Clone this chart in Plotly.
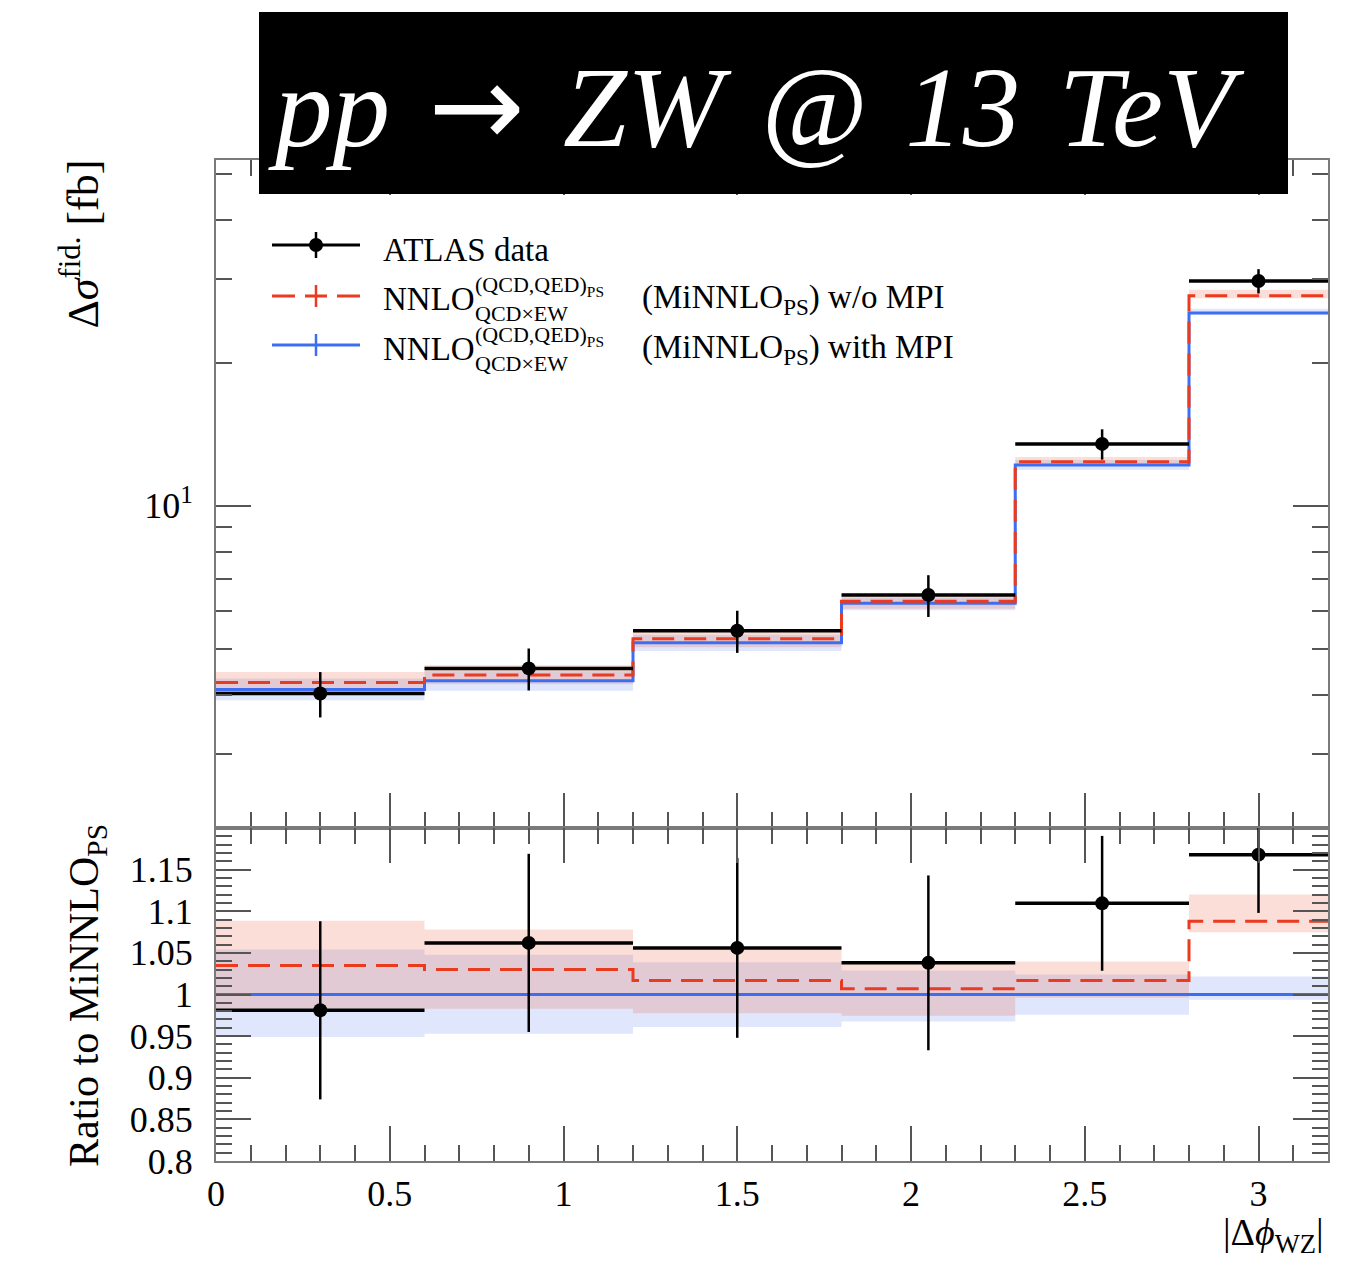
import plotly.graph_objects as go

# ---------------- data ----------------
bin_edges = [0.0, 0.6, 1.2, 1.8, 2.3, 2.8, 3.2]

# top panel: differential fiducial cross section [fb]
atlas_data = [4.02, 4.54, 5.45, 6.48, 13.48, 29.7]
atlas_err = [0.44, 0.46, 0.555, 0.654, 0.99, 1.75]
minnlo_mpi = [4.10, 4.277, 5.143, 6.224, 12.17, 25.42]
minnlo_nompi = [4.24, 4.40, 5.244, 6.29, 12.37, 27.65]

# ratio panel (ratio to MiNNLO_PS with MPI)
ratio_data = [0.981, 1.062, 1.056, 1.038, 1.1095, 1.168]
ratio_data_err = [0.107, 0.107, 0.108, 0.105, 0.081, 0.070]
ratio_nompi = [1.0348, 1.030, 1.0168, 1.0068, 1.0168, 1.0879]
ratio_mpi = [1.0, 1.0, 1.0, 1.0, 1.0, 1.0]
nompi_band_lo = [0.983, 0.983, 0.9776, 0.9744, 0.996, 1.0747]
nompi_band_hi = [1.0887, 1.078, 1.0536, 1.0376, 1.0396, 1.120]
mpi_band_lo = [0.949, 0.953, 0.961, 0.9676, 0.9757, 0.9936]
mpi_band_hi = [1.054, 1.0476, 1.0388, 1.0288, 1.024, 1.0216]

ratio_tick_vals = [0.8, 0.85, 0.9, 0.95, 1.0, 1.05, 1.1, 1.15]
ratio_tick_text = ["0.8", "0.85", "0.9", "0.95", "1", "1.05", "1.1", "1.15"]
top_tick_vals = [10]
top_tick_text = ["10<sup>1</sup>"]
top_minor_vals = [3, 4, 5, 6, 7, 8, 9, 20, 30, 40, 50]

# ---------------- styling ----------------
RED = "#ea3a1f"
BLUE = "#3b6ef0"
RED_FILL = "rgba(236,90,60,0.20)"
BLUE_FILL = "rgba(70,110,235,0.17)"
FRAME = "#7a7a7a"
TICKC = "#555555"
FONT = "Liberation Serif"

OFF = 8                      # page body margin of the html page
W, H = 1358 - OFF, 1261 - OFF
# plot-area geometry in page pixels
PL, PR, PT, PB = 216, 1328, 160, 1161
PW = PR - PL
PH = PB - PT
SPLIT = (PB - 828) / PH


def px(x):
    return (x - PL) / PW


def py(y):
    return (PB - y) / PH


def step(vals):
    return list(bin_edges), list(vals) + [vals[-1]]


centers = [(a + b) / 2 for a, b in zip(bin_edges[:-1], bin_edges[1:])]
halfw = [(b - a) / 2 for a, b in zip(bin_edges[:-1], bin_edges[1:])]

fig = go.Figure()


def add_band(lo, hi, fill, xa, ya):
    x, ylo = step(lo)
    _, yhi = step(hi)
    fig.add_trace(go.Scatter(x=x, y=ylo, mode="lines", line=dict(width=0, shape="hv"),
                             hoverinfo="skip", showlegend=False, xaxis=xa, yaxis=ya))
    fig.add_trace(go.Scatter(x=x, y=yhi, mode="lines", line=dict(width=0, shape="hv"),
                             fill="tonexty", fillcolor=fill, hoverinfo="skip",
                             showlegend=False, xaxis=xa, yaxis=ya))


def add_hist(vals, color, dash, xa, ya, name):
    x, y = step(vals)
    fig.add_trace(go.Scatter(x=x, y=y, mode="lines", name=name,
                             line=dict(color=color, width=3, shape="hv", dash=dash),
                             showlegend=False, xaxis=xa, yaxis=ya))


def add_data(vals, errs, xa, ya):
    fig.add_trace(go.Scatter(x=centers, y=vals, mode="markers",
                             marker=dict(size=1, color="black"),
                             error_x=dict(type="data", array=halfw, width=0, thickness=3.5, color="black"),
                             showlegend=False, hoverinfo="skip", xaxis=xa, yaxis=ya))
    fig.add_trace(go.Scatter(x=centers, y=vals, mode="markers", name="ATLAS data",
                             marker=dict(size=14, color="black"),
                             error_y=dict(type="data", array=errs, width=0, thickness=2.5, color="black"),
                             showlegend=False, xaxis=xa, yaxis=ya))


# top panel
top_nompi_lo = [m * r for m, r in zip(minnlo_mpi, nompi_band_lo)]
top_nompi_hi = [m * r for m, r in zip(minnlo_mpi, nompi_band_hi)]
top_mpi_lo = [m * r for m, r in zip(minnlo_mpi, mpi_band_lo)]
top_mpi_hi = [m * r for m, r in zip(minnlo_mpi, mpi_band_hi)]
add_band(top_mpi_lo, top_mpi_hi, BLUE_FILL, "x", "y")
add_band(top_nompi_lo, top_nompi_hi, RED_FILL, "x", "y")
add_hist(minnlo_mpi, BLUE, "solid", "x", "y", "with MPI")
add_hist(minnlo_nompi, RED, "22px,10px", "x", "y", "w/o MPI")
add_data(atlas_data, atlas_err, "x", "y")

# ratio panel
add_band(mpi_band_lo, mpi_band_hi, BLUE_FILL, "x2", "y2")
add_band(nompi_band_lo, nompi_band_hi, RED_FILL, "x2", "y2")
add_hist(ratio_mpi, BLUE, "solid", "x2", "y2", "with MPI")
add_hist(ratio_nompi, RED, "22px,10px", "x2", "y2", "w/o MPI")
add_data(ratio_data, ratio_data_err, "x2", "y2")

tickfont = dict(family=FONT, size=36, color="black")
common = dict(showline=True, linecolor=FRAME, linewidth=2, mirror="ticks",
              ticks="inside", ticklen=35, tickwidth=2, tickcolor=TICKC,
              showgrid=False, zeroline=False, tickfont=tickfont)

fig.update_layout(
    width=W, height=H,
    margin=dict(l=PL - OFF, r=W - (PR - OFF), t=PT - OFF, b=H - (PB - OFF)),
    paper_bgcolor="white", plot_bgcolor="white",
    showlegend=False,
    xaxis=dict(domain=[0, 1], anchor="y", range=[0, 3.2], tickmode="linear", tick0=0, dtick=0.5,
               showticklabels=False,
               minor=dict(ticks="inside", ticklen=16, tickwidth=2, tickcolor=TICKC, tick0=0, dtick=0.1),
               **common),
    yaxis=dict(domain=[SPLIT, 1], anchor="x", type="log", range=[0.3211, 1.7274],
               tickmode="array", tickvals=top_tick_vals, ticktext=top_tick_text,
               ticklabelstandoff=14,
               minor=dict(ticks="inside", ticklen=16, tickwidth=2, tickcolor=TICKC,
                          tickmode="array", tickvals=top_minor_vals),
               **common),
    xaxis2=dict(domain=[0, 1], anchor="y2", range=[0, 3.2], tickmode="linear", tick0=0, dtick=0.5,
                minor=dict(ticks="inside", ticklen=16, tickwidth=2, tickcolor=TICKC, tick0=0, dtick=0.1),
                **common),
    yaxis2=dict(domain=[0, SPLIT], anchor="x2", range=[0.8, 1.2],
                tickmode="array", tickvals=ratio_tick_vals, ticktext=ratio_tick_text,
                ticklabelstandoff=14,
                minor=dict(ticks="inside", ticklen=16, tickwidth=2, tickcolor=TICKC,
                           tickmode="linear", tick0=0.8, dtick=0.01),
                **common),
)

shapes = []
annotations = []

# title box
SP = "\u2004"
shapes.append(dict(type="rect", xref="paper", yref="paper", x0=px(259), x1=px(1288),
                   y0=py(194), y1=py(12), fillcolor="black", line=dict(width=0), layer="above"))
annotations.append(dict(xref="paper", yref="paper", x=px(266), y=py(106), xanchor="left", yanchor="middle",
                        text=("<i>pp</i>" + SP + "<span style=\"font-family:'DejaVu Sans'\">→</span>" + SP
                              + "<i>ZW" + SP + "@" + SP + "13" + SP + "TeV</i>"),
                        showarrow=False,
                        font=dict(family=FONT, size=115, color="white")))

# axis titles
annotations.append(dict(xref="paper", yref="paper", x=px(80), y=py(158), xanchor="center", yanchor="top",
                        textangle=-90, showarrow=False,
                        text="Δ<i>σ</i><sup>fid.</sup> [fb]",
                        font=dict(family=FONT, size=44, color="black")))
annotations.append(dict(xref="paper", yref="paper", x=px(87), y=py(996), xanchor="center", yanchor="middle",
                        textangle=-90, showarrow=False,
                        text="Ratio to MiNNLO<sub>PS</sub>",
                        font=dict(family=FONT, size=42, color="black")))
annotations.append(dict(xref="paper", yref="paper", x=px(1326), y=py(1235), xanchor="right", yanchor="middle",
                        showarrow=False, text="|Δ<i>ϕ</i><sub>WZ</sub>|",
                        font=dict(family=FONT, size=38, color="black")))


# legend glyphs
def seg(x0, x1, y0, y1, color, width, dash="solid"):
    shapes.append(dict(type="line", xref="paper", yref="paper", x0=px(x0), x1=px(x1),
                       y0=py(y0), y1=py(y1), line=dict(color=color, width=width, dash=dash)))


seg(272, 360, 245, 245, "black", 3)
seg(316, 316, 232, 258, "black", 2.5)
shapes.append(dict(type="circle", xref="paper", yref="paper", x0=px(309), x1=px(323),
                   y0=py(252), y1=py(238), fillcolor="black", line=dict(width=0)))
for a, b in [(272, 295), (305, 327), (337, 360)]:
    seg(a, b, 296, 296, RED, 3)
seg(316, 316, 285, 307, RED, 2.5)
seg(272, 360, 345, 345, BLUE, 3)
seg(316, 316, 334, 356, BLUE, 2.5)

LF = dict(family=FONT, size=33, color="black")
SF = dict(family=FONT, size=22, color="black")


def lab(x, y, text, font):
    annotations.append(dict(xref="paper", yref="paper", x=px(x), y=py(y), xanchor="left",
                            yanchor="middle", align="left", showarrow=False, text=text, font=font))


lab(381, 250, "ATLAS data", LF)
for dy, tail in [(0, "w/o MPI"), (50, "with MPI")]:
    lab(381, 299 + dy, "NNLO", LF)
    lab(473, 299 + dy, "(QCD,QED)<sub>PS</sub><br>QCD×EW", SF)
    lab(640, 299 + dy, "(MiNNLO<sub>PS</sub>) " + tail, LF)

fig.update_layout(shapes=shapes, annotations=annotations)

fig.write_html("out.html")
